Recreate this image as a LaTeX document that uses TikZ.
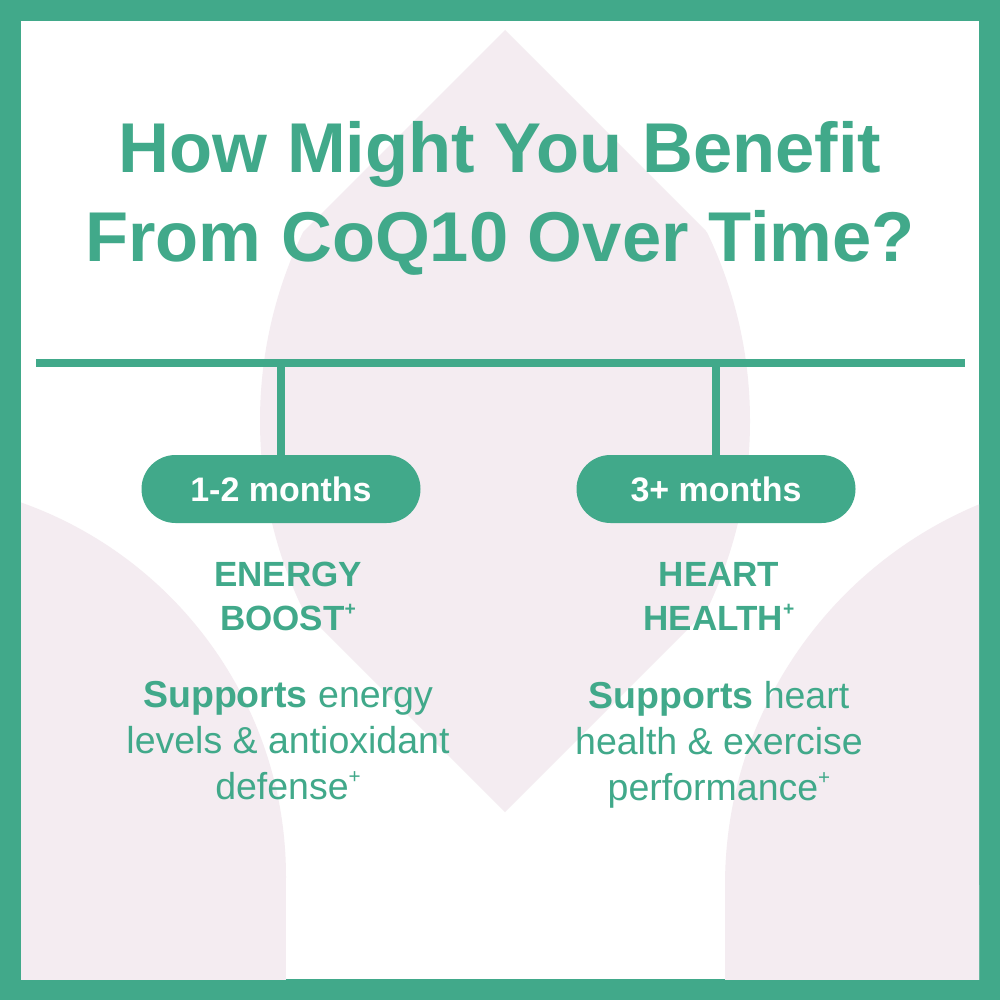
\documentclass[tikz,border=0pt]{standalone}
\usepackage{fontspec}
\setmainfont{Liberation Sans}
\usepackage{graphicx}
\definecolor{coqgreen}{HTML}{41A98A}
\definecolor{petal}{HTML}{F4ECF1}
\newcommand{\plusmark}{\raisebox{0.42em}{\scalebox{0.55}{+}}}

\begin{document}
\begin{tikzpicture}[x=1pt,y=-1pt,
  pill/.style={fill=coqgreen, rounded corners=34pt, minimum width=279pt, minimum height=68pt,
    inner sep=0pt, text=white, font=\bfseries\fontsize{34}{40}\selectfont},
  heading/.style={anchor=north, inner sep=0pt, align=center, text=coqgreen,
    font=\bfseries\fontsize{35}{44}\selectfont},
  blurb/.style={anchor=north, inner sep=0pt, align=center, text=coqgreen,
    font=\fontsize{37.5}{46}\selectfont},
  bar/.style={draw=coqgreen, line width=7.5pt}]
\useasboundingbox (0,0) rectangle (1000,1000);
\fill[coqgreen] (0,0) rectangle (1000,1000);
\fill[white] (21,21) rectangle (979,979);

% pale petals in the back
\begin{scope}
  \clip (21,21) rectangle (979,979);
  \fill[petal] (-111,877) circle[radius=397];
  \fill[petal] (-508,877) rectangle (286,980);
  \fill[petal] (1137,885) circle[radius=412];
  \fill[petal] (725,885) rectangle (1549,980);
  \begin{scope}
    \clip (505,30) -- (896,421) -- (505,812) -- (114,421) -- cycle;
    \clip (694.5,421) circle[radius=434.5];
    \fill[petal] (315.5,421) circle[radius=434.5];
  \end{scope}
\end{scope}

\node[anchor=north, inner sep=0pt, align=center, text=coqgreen,
  font=\bfseries\fontsize{70.5}{89}\selectfont] (title) at (500,121)
  {How Might You Benefit\\From CoQ10 Over Time?};

\coordinate (ruleL) at (36,363);
\coordinate (ruleR) at (965,363);
\draw[bar] (ruleL) -- (ruleR);

\node[pill] (early) at (281,489) {1-2 months};
\node[pill] (late) at (716,489) {3+ months};
\draw[bar] (early.north) -- (early.north |- ruleL);
\draw[bar] (late.north) -- (late.north |- ruleL);

\node[heading] (energy) at (288,562) {ENERGY\\BOOST\plusmark};
\node[heading] (heart) at (719,562) {HEART\\HEALTH\plusmark};

\node[blurb] (energytxt) at (288,681)
  {\textbf{Supports} energy\\levels \& antioxidant\\defense\plusmark};
\node[blurb] (hearttxt) at (719,681)
  {\textbf{Supports} heart\\health \& exercise\\performance\plusmark};
\end{tikzpicture}
\end{document}
